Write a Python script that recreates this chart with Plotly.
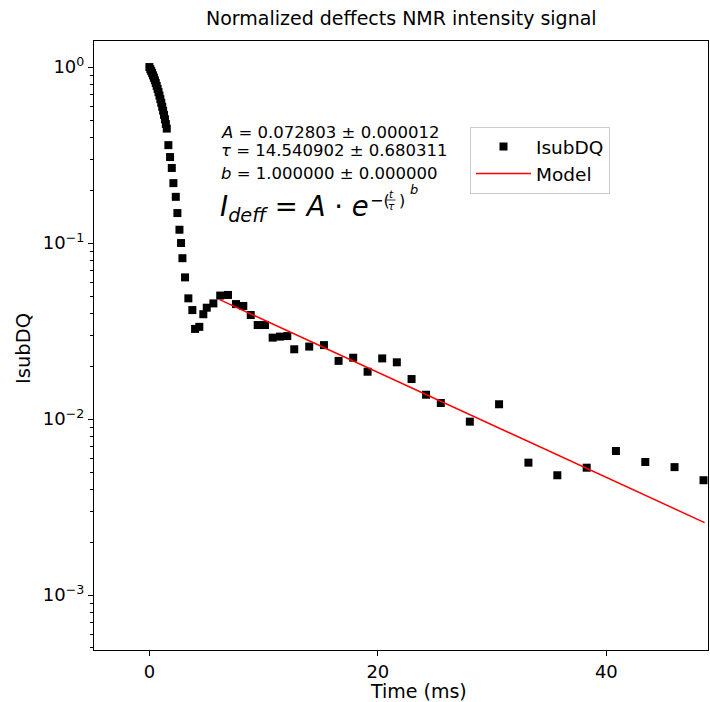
import plotly.graph_objects as go

# ---- data ----
time_ms = [0.00, 0.08, 0.16, 0.24, 0.32, 0.40, 0.48, 0.56, 0.64, 0.72,
           0.80, 0.88, 0.96, 1.04, 1.12, 1.20, 1.28, 1.36, 1.44, 1.52,
           1.66, 1.81, 1.96, 2.10, 2.31, 2.45, 2.63, 2.77, 2.89, 3.12,
           3.41, 3.76, 4.00, 4.37, 4.72, 5.02, 5.60, 6.20, 6.88, 7.58,
           8.22, 8.87, 9.48, 10.12, 10.79, 11.43, 12.07, 12.68, 13.99, 15.28,
           16.56, 17.84, 19.10, 20.38, 21.66, 22.95, 24.22, 25.51, 28.05, 30.61,
           33.18, 35.71, 38.28, 40.84, 43.41, 45.97, 48.51]
isubdq = [1.000, 0.972, 0.948, 0.923, 0.896, 0.869, 0.840, 0.811, 0.781, 0.751,
          0.720, 0.689, 0.657, 0.626, 0.595, 0.565, 0.535, 0.505, 0.475, 0.447,
          0.360, 0.308, 0.267, 0.219, 0.183, 0.148, 0.119, 0.100, 0.082, 0.0638,
          0.0485, 0.0416, 0.0325, 0.0334, 0.0394, 0.0429, 0.0454, 0.0503, 0.0507, 0.0450,
          0.0439, 0.0390, 0.0342, 0.0342, 0.0290, 0.0294, 0.0296, 0.0249, 0.0258, 0.0263,
          0.0214, 0.0223, 0.01857, 0.0221, 0.0210, 0.01687, 0.01374, 0.01233, 0.00966, 0.01213,
          0.00565, 0.00479, 0.00529, 0.00658, 0.00570, 0.00533, 0.00449]

model_time = [6.15, 48.6]
model_values = [0.0477, 0.00258]

y_tickvals = [1, 0.1, 0.01, 0.001]
y_ticktext = ["10<sup>0</sup>", "10<sup>−1</sup>", "10<sup>−2</sup>", "10<sup>−3</sup>"]
x_tickvals = [0, 20, 40]
x_ticktext = ["0", "20", "40"]

y_minor = [m * 10.0 ** e for e in (-4, -3, -2, -1, 0) for m in range(2, 10)]

FONT = "DejaVu Sans"

fig = go.Figure()
fig.add_trace(go.Scatter(
    x=time_ms, y=isubdq, mode="markers", name="IsubDQ",
    marker=dict(symbol="square", size=8, color="black", line=dict(width=0)),
))
fig.add_trace(go.Scatter(
    x=model_time, y=model_values, mode="lines", name="Model",
    line=dict(color="red", width=1.5),
))

W, H = 710, 702
L, R, T, B = 94, 2, 41, 52
PW, PH = W - L - R, H - T - B


def px(x):
    return (x - L) / PW


def py(y):
    return (H - B - y) / PH


def txt(text, x, y, size, xanchor="left", yanchor="middle", angle=0):
    return dict(text=text, x=px(x), y=py(y), xref="paper", yref="paper",
                xanchor=xanchor, yanchor=yanchor, showarrow=False, textangle=angle,
                font=dict(family=FONT, size=size, color="black"))


ann = [
    txt("Normalized deffects NMR intensity signal", 401, 18, 19, xanchor="center"),
    txt("Time (ms)", 418, 691, 19, xanchor="center"),
    txt("IsubDQ", 23, 349, 19.5, xanchor="center", angle=-90),
    txt("<i>A</i> = 0.072803 ± 0.000012", 219, 132, 16.5),
    txt("<i>τ</i> = 14.540902 ± 0.680311", 219, 150, 16.5),
    txt("<i>b</i> = 1.000000 ± 0.000000", 219, 174, 16.5),
    txt("<i>I<sub>deff</sub></i> = <i>A</i> · <i>e</i>", 218, 208, 27.5),
    txt("−(", 368, 200, 16),
    txt("<i>t</i>", 391, 194, 10.5, xanchor="center"),
    txt("<i>τ</i>", 391, 206, 10.5, xanchor="center"),
    txt(")", 397, 200, 16),
    txt("<i>b</i>", 408, 189, 13),
]

shapes = [dict(type="line", xref="paper", yref="paper",
               x0=px(386.5), x1=px(395.5), y0=py(200), y1=py(200),
               line=dict(color="black", width=0.8))]

fig.update_layout(
    width=W, height=H,
    margin=dict(l=L, r=R, t=T, b=B, pad=0),
    paper_bgcolor="white", plot_bgcolor="white",
    font=dict(family=FONT, color="black"),
    xaxis=dict(
        range=[-4.85, 48.9], tickmode="array", tickvals=x_tickvals, ticktext=x_ticktext,
        ticks="outside", ticklen=5, tickwidth=1, tickcolor="black",
        showline=True, linecolor="black", linewidth=1.2, mirror=True,
        showgrid=False, zeroline=False, automargin=False,
        tickfont=dict(family=FONT, size=18),
    ),
    yaxis=dict(
        type="log", range=[-3.3125, 0.148], tickmode="array",
        tickvals=y_tickvals, ticktext=y_ticktext,
        ticks="outside", ticklen=5, tickwidth=1, tickcolor="black",
        minor=dict(tickvals=y_minor, ticks="outside", ticklen=3, tickwidth=0.8, tickcolor="black"),
        showline=True, linecolor="black", linewidth=1.2, mirror=True,
        showgrid=False, zeroline=False, automargin=False,
        tickfont=dict(family=FONT, size=18),
    ),
    legend=dict(x=px(470), y=py(127), xanchor="left", yanchor="top",
                bgcolor="rgba(255,255,255,0.8)", bordercolor="#cccccc", borderwidth=1,
                itemwidth=55, font=dict(family=FONT, size=18.5)),
    annotations=ann,
    shapes=shapes,
)

fig.write_html("out.html", config={"displayModeBar": False},
               post_script="document.body.style.margin='0px';")
